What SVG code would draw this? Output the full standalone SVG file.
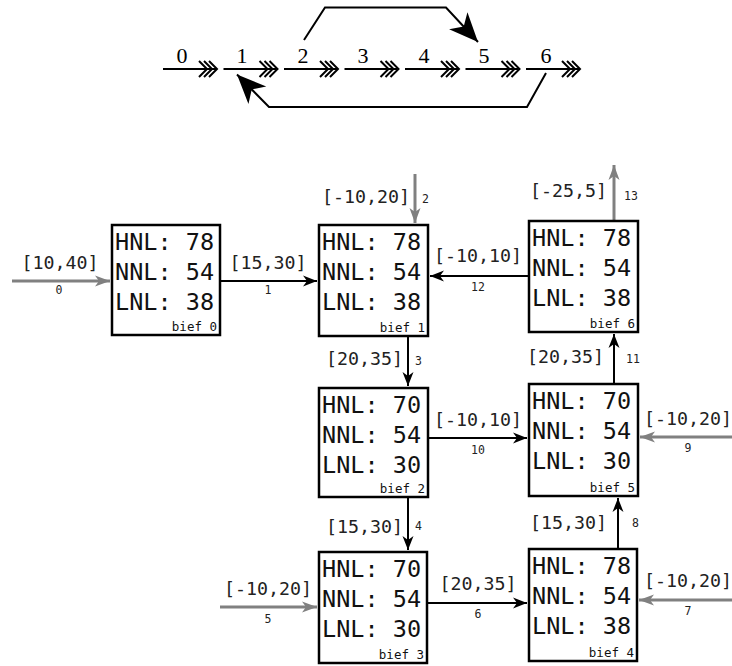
<svg xmlns="http://www.w3.org/2000/svg" width="732" height="666" viewBox="0 0 732 666">
<style>
.box{fill:#fff;stroke:#000;stroke-width:2.5}
.t{font-family:"DejaVu Sans Mono",monospace;font-size:23.5px;fill:#111}
.b{font-family:"DejaVu Sans Mono",monospace;font-size:12.5px;fill:#111;text-anchor:end}
.l{font-family:"DejaVu Sans Mono",monospace;font-size:18.3px;fill:#222}
.n{font-family:"DejaVu Sans Mono",monospace;font-size:11.5px;fill:#222}
.m{text-anchor:middle}
.e{text-anchor:end}
.k{stroke:#000;stroke-width:2;fill:none}
.g{stroke:#808080;stroke-width:3;fill:none}
.s{font-family:"Liberation Serif",serif;font-size:22px;text-anchor:middle;fill:#000}
.ch{stroke:#000;stroke-width:2;fill:none}
</style>
<defs>
<marker id="ak" markerUnits="userSpaceOnUse" markerWidth="20" markerHeight="14" viewBox="-16 -7 20 14" refX="0" refY="0" orient="auto">
<path d="M0,0 L-14,-5.5 L-10,0 L-14,5.5 Z" fill="#000"/>
</marker>
<marker id="ag" markerUnits="userSpaceOnUse" markerWidth="20" markerHeight="14" viewBox="-16 -7 20 14" refX="0" refY="0" orient="auto">
<path d="M0,0 L-15,-5.5 L-11,0 L-15,5.5 Z" fill="#808080"/>
</marker>
<marker id="st" markerUnits="userSpaceOnUse" markerWidth="36" markerHeight="32" viewBox="-32 -16 36 32" refX="0" refY="0" orient="auto">
<path d="M0,0 L-29,-12.5 L-21,0 L-29,12.5 Z" fill="#000"/>
</marker>
<g id="chev">
<path class="ch" d="M-21,-8 L-13,0 L-21,8 M-16,-8 L-8,0 L-16,8 M-11,-8 L-3,0 L-11,8"/>
</g>
</defs>

<g id="top">
<g id="seq">
<path class="k" d="M163,69 H216 M223.5,69 H276.5 M284,69 H337 M344.5,69 H397.5 M405,69 H458 M465.5,69 H518.5 M526,69 H579"/>
<use href="#chev" x="220" y="69"/>
<use href="#chev" x="280.5" y="69"/>
<use href="#chev" x="341" y="69"/>
<use href="#chev" x="401.5" y="69"/>
<use href="#chev" x="462" y="69"/>
<use href="#chev" x="522.5" y="69"/>
<use href="#chev" x="583" y="69"/>
</g>
<text class="s" x="182" y="63">0</text>
<text class="s" x="242" y="63">1</text>
<text class="s" x="303" y="63">2</text>
<text class="s" x="363" y="63">3</text>
<text class="s" x="424" y="63">4</text>
<text class="s" x="484" y="63">5</text>
<text class="s" x="546" y="63">6</text>
<path class="k" d="M304,40 L325,7.5 H446 L478,42" marker-end="url(#st)"/>
<path class="k" d="M546,73 L527,107 H269 L237,74.5" marker-end="url(#st)"/>
</g>

<g id="connectors">
<line class="g" x1="12" y1="281" x2="110" y2="281" marker-end="url(#ag)"/>
<line class="k" x1="221" y1="281" x2="317" y2="281" marker-end="url(#ak)"/>
<line class="g" x1="415" y1="174" x2="415" y2="223" marker-end="url(#ag)"/>
<line class="k" x1="528" y1="276" x2="430" y2="276" marker-end="url(#ak)"/>
<line class="g" x1="614" y1="220" x2="614" y2="165" marker-end="url(#ag)"/>
<line class="k" x1="408" y1="337" x2="408" y2="386" marker-end="url(#ak)"/>
<line class="k" x1="614" y1="383" x2="614" y2="334" marker-end="url(#ak)"/>
<line class="k" x1="429" y1="438" x2="527" y2="438" marker-end="url(#ak)"/>
<line class="g" x1="732" y1="437" x2="640" y2="437" marker-end="url(#ag)"/>
<line class="k" x1="408" y1="498" x2="408" y2="550" marker-end="url(#ak)"/>
<line class="k" x1="618" y1="548" x2="618" y2="498" marker-end="url(#ak)"/>
<line class="g" x1="220" y1="607" x2="317" y2="607" marker-end="url(#ag)"/>
<line class="k" x1="428" y1="603" x2="527" y2="603" marker-end="url(#ak)"/>
<line class="g" x1="732" y1="600" x2="639" y2="600" marker-end="url(#ag)"/>

<text class="l m" x="60" y="269">[10,40]</text><text class="n m" x="59" y="294">0</text>
<text class="l m" x="268" y="269">[15,30]</text><text class="n m" x="268" y="294">1</text>
<text class="l e" x="410" y="203">[-10,20]</text><text class="n" x="422" y="203">2</text>
<text class="l m" x="478" y="262">[-10,10]</text><text class="n m" x="478" y="291">12</text>
<text class="l e" x="607" y="197">[-25,5]</text><text class="n" x="624" y="200">13</text>
<text class="l e" x="403" y="365">[20,35]</text><text class="n" x="415" y="365">3</text>
<text class="l e" x="604" y="363">[20,35]</text><text class="n" x="626" y="363">11</text>
<text class="l m" x="478" y="426">[-10,10]</text><text class="n m" x="478" y="454">10</text>
<text class="l m" x="688" y="425">[-10,20]</text><text class="n m" x="688" y="452">9</text>
<text class="l e" x="403" y="533">[15,30]</text><text class="n" x="415" y="530">4</text>
<text class="l e" x="607" y="529">[15,30]</text><text class="n" x="632" y="527">8</text>
<text class="l m" x="268" y="595">[-10,20]</text><text class="n m" x="268" y="623">5</text>
<text class="l m" x="478" y="590">[20,35]</text><text class="n m" x="478" y="618">6</text>
<text class="l m" x="688" y="587">[-10,20]</text><text class="n m" x="688" y="615">7</text>
</g>

<g id="bief0">
<rect class="box" x="112" y="225" width="108" height="110"/>
<text class="t" x="115" y="250">HNL: 78</text>
<text class="t" x="115" y="280">NNL: 54</text>
<text class="t" x="115" y="310">LNL: 38</text>
<text class="b" x="217" y="331">bief 0</text>
</g>
<g id="bief1">
<rect class="box" x="319" y="225" width="109" height="111"/>
<text class="t" x="322" y="250">HNL: 78</text>
<text class="t" x="322" y="280">NNL: 54</text>
<text class="t" x="322" y="310">LNL: 38</text>
<text class="b" x="425" y="332">bief 1</text>
</g>
<g id="bief6">
<rect class="box" x="529" y="221" width="109" height="111"/>
<text class="t" x="532" y="246">HNL: 78</text>
<text class="t" x="532" y="276">NNL: 54</text>
<text class="t" x="532" y="306">LNL: 38</text>
<text class="b" x="635" y="328">bief 6</text>
</g>
<g id="bief2">
<rect class="box" x="319" y="388" width="109" height="109"/>
<text class="t" x="322" y="413">HNL: 70</text>
<text class="t" x="322" y="443">NNL: 54</text>
<text class="t" x="322" y="473">LNL: 30</text>
<text class="b" x="425" y="493">bief 2</text>
</g>
<g id="bief5">
<rect class="box" x="529" y="384" width="109" height="112"/>
<text class="t" x="532" y="409">HNL: 70</text>
<text class="t" x="532" y="439">NNL: 54</text>
<text class="t" x="532" y="469">LNL: 30</text>
<text class="b" x="635" y="492">bief 5</text>
</g>
<g id="bief3">
<rect class="box" x="319" y="552" width="108" height="111"/>
<text class="t" x="322" y="577">HNL: 70</text>
<text class="t" x="322" y="607">NNL: 54</text>
<text class="t" x="322" y="637">LNL: 30</text>
<text class="b" x="424" y="659">bief 3</text>
</g>
<g id="bief4">
<rect class="box" x="529" y="549" width="108" height="112"/>
<text class="t" x="532" y="574">HNL: 78</text>
<text class="t" x="532" y="604">NNL: 54</text>
<text class="t" x="532" y="634">LNL: 38</text>
<text class="b" x="634" y="657">bief 4</text>
</g>
</svg>
